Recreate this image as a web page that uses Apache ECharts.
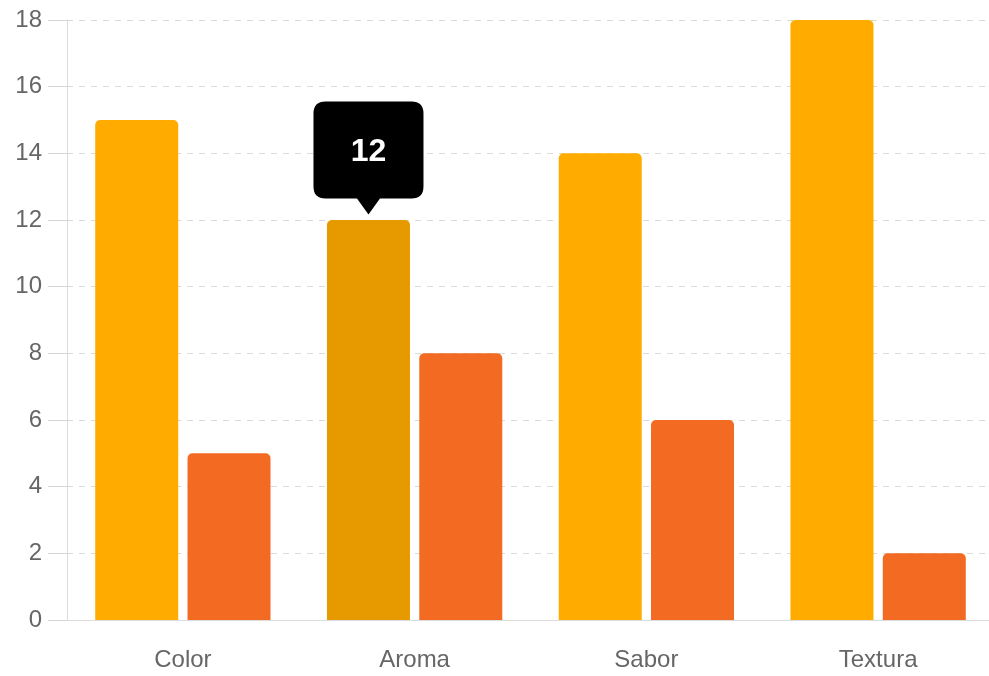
<!DOCTYPE html>
<html>
<head>
<meta charset="utf-8">
<script src="https://cdn.jsdelivr.net/npm/echarts@6/dist/echarts.min.js"></script>
<style>
html,body{margin:0;padding:0;background:#fff;}
#chart{width:989px;height:676px;}
</style>
</head>
<body>
<div id="chart"></div>
<script>
const categories = ['Color', 'Aroma', 'Sabor', 'Textura'];
const seriesA = [15, 12, 14, 18];
const seriesB = [5, 8, 6, 2];
const yTicks = [0, 2, 4, 6, 8, 10, 12, 14, 16, 18];
const highlightIndex = 1;

const colorA = '#FFAB00';
const colorAHover = '#E69A00';
const colorB = '#F36A22';
const font = '"Liberation Sans", Arial, sans-serif';

const chart = echarts.init(document.getElementById('chart'), null, {renderer: 'canvas'});

const tipPath = 'path://M12,0 H98 Q110,0 110,12 V85 Q110,97 98,97 H66.5 L55,113 L43.5,97 H12 Q0,97 0,85 V12 Q0,0 12,0 Z';

chart.setOption({
  animation: false,
  grid: {left: 67, top: 20, width: 927, height: 600, containLabel: false, outerBoundsMode: 'none'},
  xAxis: {
    type: 'category',
    data: categories,
    axisLine: {show: true, lineStyle: {color: '#dcdcdc', width: 1}},
    axisTick: {show: false},
    splitLine: {show: false},
    axisLabel: {color: '#666', fontSize: 24, fontFamily: font, margin: 28}
  },
  yAxis: {
    type: 'value',
    min: yTicks[0],
    max: yTicks[yTicks.length - 1],
    interval: yTicks[1] - yTicks[0],
    axisLine: {show: true, lineStyle: {color: '#dcdcdc', width: 1}},
    axisTick: {show: true, length: 19, lineStyle: {color: '#d4d4d4', width: 1}},
    splitLine: {show: true, lineStyle: {color: '#dadada', width: 1, type: [6, 6]}},
    axisLabel: {color: '#666', fontSize: 24, fontFamily: font, margin: 25, padding: [0, 0, 6, 0]}
  },
  series: [
    {
      type: 'bar',
      data: seriesA.map((v, i) => i === highlightIndex ? {value: v, itemStyle: {color: colorAHover}} : v),
      barWidth: 83,
      barGap: '11.2%',
      itemStyle: {color: colorA, borderRadius: [5, 5, 0, 0]},
      markPoint: {
        symbol: tipPath,
        symbolSize: [110, 113],
        symbolKeepAspect: false,
        symbolOffset: [0, -62],
        itemStyle: {color: '#000'},
        label: {
          show: true,
          color: '#fff',
          fontSize: 32,
          fontWeight: 'bold',
          fontFamily: font,
          offset: [0, -6],
          formatter: p => String(p.value)
        },
        data: [{coord: [categories[highlightIndex], seriesA[highlightIndex]], value: seriesA[highlightIndex]}]
      }
    },
    {
      type: 'bar',
      data: seriesB,
      barWidth: 83,
      barGap: '11.2%',
      itemStyle: {color: colorB, borderRadius: [5, 5, 0, 0]}
    }
  ]
});
</script>
</body>
</html>
